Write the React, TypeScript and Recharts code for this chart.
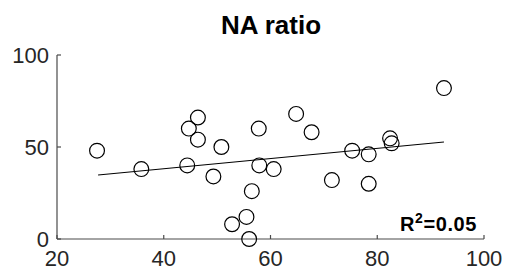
import { ReferenceLine, Scatter, ScatterChart, XAxis, YAxis } from 'recharts';

// NA ratio scatter
const xValues = [
    27.5, 35.8, 44.4, 44.7, 46.4, 46.4, 50.8, 49.3, 56.5, 55.5, 52.8, 56.0,
    57.8, 57.9, 60.6, 64.8, 67.7, 71.5, 75.3, 78.4, 78.4, 82.4, 82.7, 92.5,
];
const yValues = [
    48, 38, 40, 60, 66, 54, 50, 34, 26, 12, 8, 0,
    60, 40, 38, 68, 58, 32, 48, 46, 30, 54.7, 52, 82,
];

// linear fit endpoints
const fitX = [27.7, 92.5];
const fitY = [34.8, 52.7];

const xTicks = [20, 40, 60, 80, 100];
const yTicks = [0, 50, 100];

const title = 'NA ratio';
const rSquared = '0.05';

const points = xValues.map((x, i) => ({ x, y: yValues[i] }));

const FONT = '"Liberation Sans", Arial, sans-serif';
const AXIS = '#4a4a4a';
const LABEL = '#262626';

const XTick = ({ x, y, payload }: any) => (
    <g>
        <line x1={x} x2={x} y1={y} y2={y - 4} stroke={AXIS} strokeWidth={1.2} />
        <text x={x} y={y + 27} textAnchor="middle" fontSize={22} fill={LABEL} fontFamily={FONT}>
            {payload.value}
        </text>
    </g>
);

const YTick = ({ x, y, payload }: any) => (
    <g>
        <line x1={x} x2={x + 4} y1={y} y2={y} stroke={AXIS} strokeWidth={1.2} />
        <text x={x - 8} y={y + 8} textAnchor="end" fontSize={22} fill={LABEL} fontFamily={FONT}>
            {payload.value}
        </text>
    </g>
);

const Ring = ({ cx, cy }: any) => (
    <circle cx={cx} cy={cy} r={7.4} fill="none" stroke="#000" strokeWidth={1.2} />
);

export default function App() {
    return (
        <div style={{ position: 'absolute', left: 0, top: 0, width: 505, height: 271, background: '#fff' }}>
            <ScatterChart width={505} height={271} margin={{ top: 55, right: 21, bottom: 0, left: 0 }}>
                <XAxis
                    type="number"
                    dataKey="x"
                    domain={[20, 100]}
                    ticks={xTicks}
                    height={32}
                    tickSize={0}
                    tickMargin={0}
                    tickLine={false}
                    axisLine={{ stroke: AXIS, strokeWidth: 1.2 }}
                    tick={<XTick />}
                    interval={0}
                />
                <YAxis
                    type="number"
                    dataKey="y"
                    domain={[0, 100]}
                    ticks={yTicks}
                    width={57}
                    tickSize={0}
                    tickMargin={0}
                    tickLine={false}
                    axisLine={{ stroke: AXIS, strokeWidth: 1.2 }}
                    tick={<YTick />}
                    interval={0}
                />
                <ReferenceLine
                    segment={[
                        { x: fitX[0], y: fitY[0] },
                        { x: fitX[1], y: fitY[1] },
                    ]}
                    stroke="#000"
                    strokeWidth={1.1}
                />
                <Scatter data={points} shape={<Ring />} isAnimationActive={false} />
            </ScatterChart>
            <svg
                width={505}
                height={271}
                style={{ position: 'absolute', left: 0, top: 0, pointerEvents: 'none' }}
            >
                <text x={271} y={34} textAnchor="middle" fontSize={26} fontWeight="bold" fill="#000" fontFamily={FONT}>
                    {title}
                </text>
                <text x={400} y={231} fontSize={20} fontWeight="bold" fill="#000" fontFamily={FONT} letterSpacing={0.6}>
                    R<tspan dy={-8} fontSize={14}>2</tspan>
                    <tspan dy={8}>={rSquared}</tspan>
                </text>
            </svg>
        </div>
    );
}
